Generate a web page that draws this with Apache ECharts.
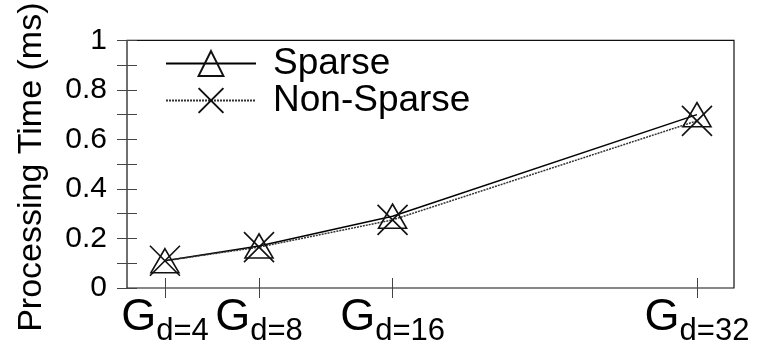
<!DOCTYPE html>
<html><head><meta charset="utf-8">
<script src="https://cdn.jsdelivr.net/npm/echarts@6/dist/echarts.min.js"></script>
<style>html,body{margin:0;padding:0;background:#fff}#c{width:759px;height:347px}</style>
</head><body><div id="c"></div>
<script>
const categories = ['d=4', 'd=8', 'd=16', 'd=32'];
const xPositions = [1.25, 4.35, 8.75, 18.78];
const sparse = [0.11, 0.17, 0.29, 0.70];
const nonSparse = [0.11, 0.165, 0.275, 0.675];
const yTicks = [0, 0.2, 0.4, 0.6, 0.8, 1];

const FONT = 'Liberation Sans';
const chart = echarts.init(document.getElementById('c'));
const xSymbol = 'path://M0 0L10 10M10 0L0 10';
const labelMap = {};
xPositions.forEach((p, i) => labelMap[p] = categories[i]);

chart.setOption({
  animation: false,
  textStyle: {fontFamily: FONT, color: '#000'},
  grid: {left: 127, right: 25, top: 39, bottom: 58, show: true, borderColor: '#111', borderWidth: 1.2},
  legend: {
    left: 165, top: 45, orient: 'vertical', itemGap: 0, itemWidth: 90, itemHeight: 31, padding: 0,
    textStyle: {fontFamily: FONT, fontSize: 37, lineHeight: 31, color: '#000', padding: [0, 0, 0, 12]},
    data: ['Sparse', 'Non-Sparse']
  },
  xAxis: [{
    type: 'value', min: 0, max: 20, position: 'bottom',
    axisLine: {show: false}, splitLine: {show: false},
    axisTick: {inside: true, length: 10, customValues: xPositions, lineStyle: {color: '#444', width: 1}},
    axisLabel: {
      customValues: xPositions, margin: 7,
      formatter: v => '{g|G}{s|' + labelMap[v] + '}',
      rich: {
        g: {fontFamily: FONT, fontSize: 45, color: '#000', lineHeight: 45, verticalAlign: 'top'},
        s: {fontFamily: FONT, fontSize: 31, color: '#000', lineHeight: 31, verticalAlign: 'top', padding: [21, 0, 0, 0]}
      }
    }
  }, {
    type: 'value', min: 0, max: 20, position: 'top',
    axisLine: {show: false}, splitLine: {show: false}, axisLabel: {show: false},
    axisTick: {inside: true, length: 10, customValues: xPositions, lineStyle: {color: '#444', width: 1}}
  }],
  yAxis: [{
    type: 'value', min: 0, max: 1, interval: 0.1, position: 'left',
    name: 'Processing Time (ms)', nameLocation: 'middle', nameGap: 78, nameRotate: 90,
    nameTextStyle: {fontFamily: FONT, fontSize: 34, color: '#000', padding: [0, 6, 0, 0]},
    axisLine: {show: false}, splitLine: {show: false},
    axisTick: {inside: true, length: 10, lineStyle: {color: '#444', width: 1}},
    axisLabel: {
      fontFamily: FONT, fontSize: 30, color: '#000', margin: 20,
      formatter: v => yTicks.some(t => Math.abs(t - v) < 1e-6) ? String(Math.round(v * 10) / 10) : ''
    }
  }, {
    type: 'value', min: 0, max: 1, interval: 0.1, position: 'right',
    axisLine: {show: false}, splitLine: {show: false}, axisLabel: {show: false},
    axisTick: {inside: true, length: 10, lineStyle: {color: '#444', width: 1}}
  }],
  series: [{
    name: 'Sparse', type: 'line',
    data: xPositions.map((x, i) => [x, sparse[i]]),
    symbol: 'triangle', symbolSize: [28, 24],
    lineStyle: {color: '#000', width: 1.5, type: 'solid'},
    itemStyle: {color: 'transparent', borderColor: '#111', borderWidth: 1.6}
  }, {
    name: 'Non-Sparse', type: 'line',
    data: xPositions.map((x, i) => [x, nonSparse[i]]),
    symbol: xSymbol, symbolSize: [30, 30],
    lineStyle: {color: '#333', width: 1.5, type: [2, 1]},
    itemStyle: {color: 'transparent', borderColor: '#111', borderWidth: 1.6}
  }]
});
</script></body></html>
